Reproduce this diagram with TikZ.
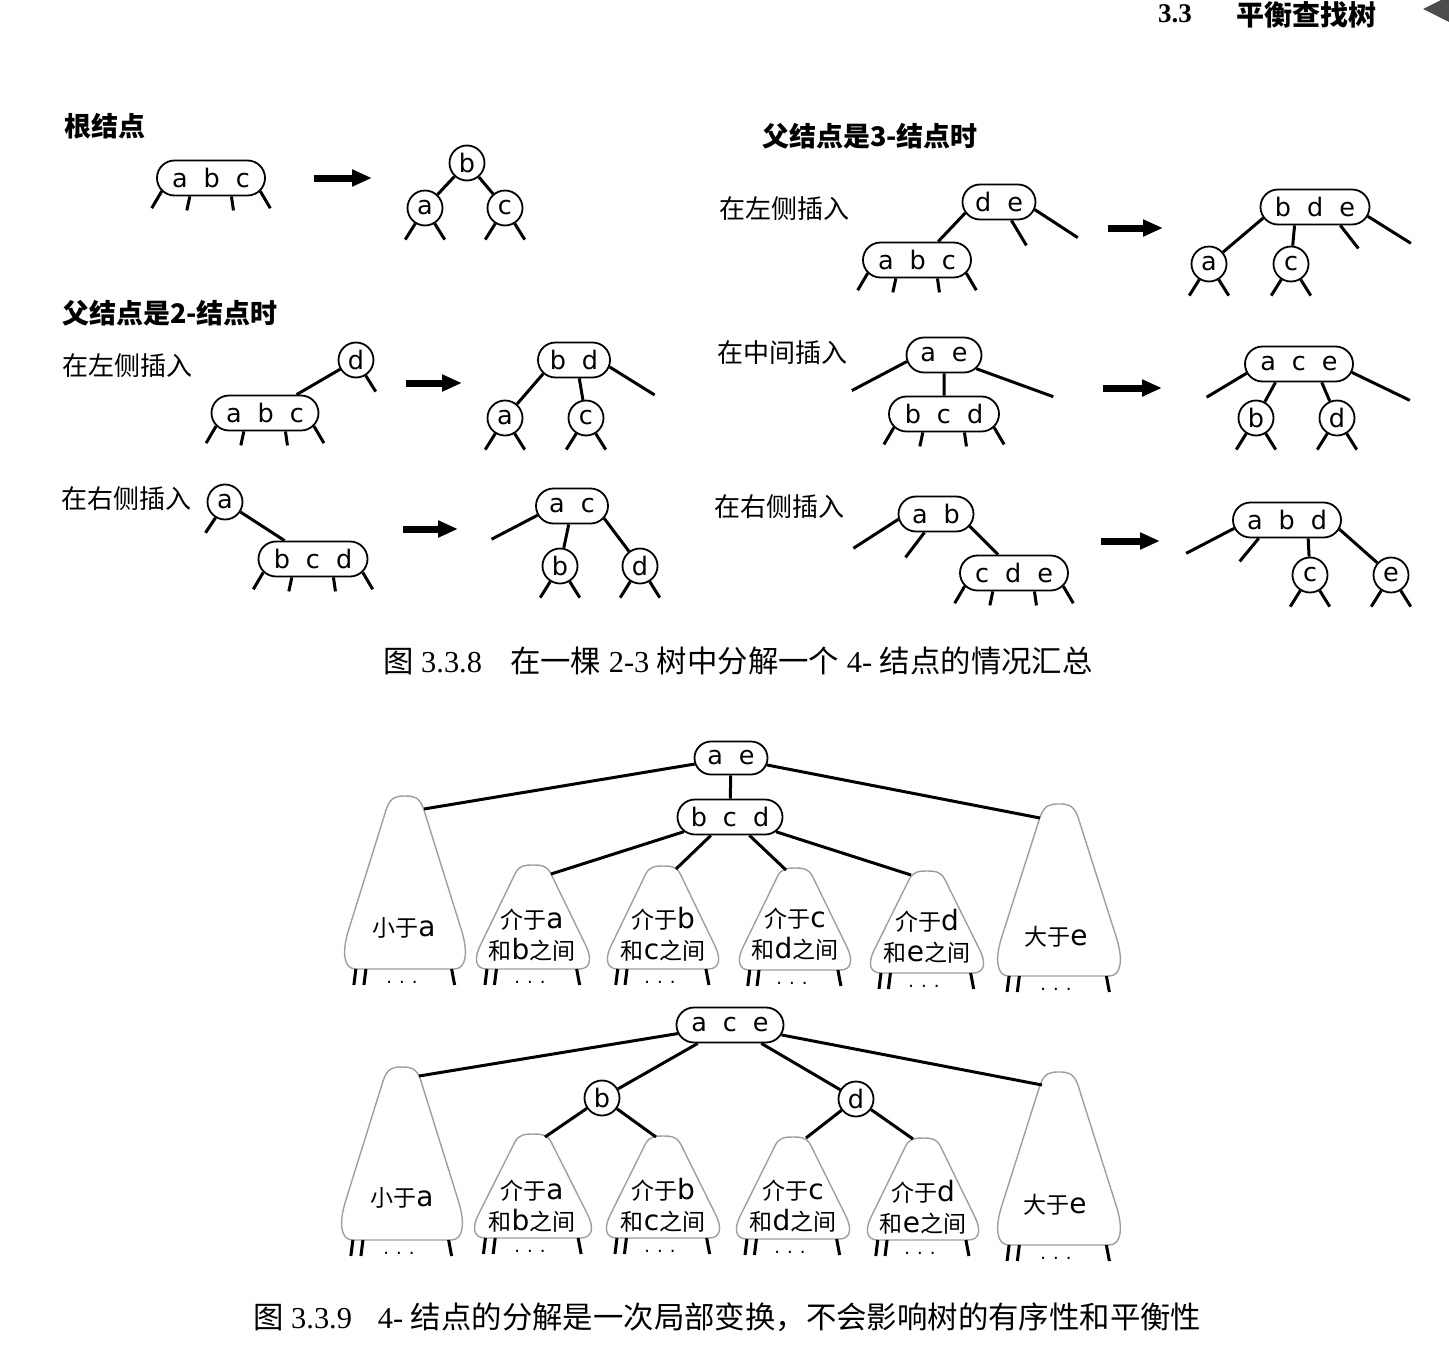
\documentclass[tikz,border=0pt]{standalone}
\usepackage{fontspec}
\setmainfont{Liberation Serif}
\newfontfamily\keyf{DejaVu Sans}
\newfontfamily\cjk{Noto Sans CJK SC}
\usetikzlibrary{shapes.misc,arrows.meta,calc}

\newcommand\ks{\hspace{16pt}}
\newcommand\keysize{\fontsize{25.5}{25.5}\selectfont}
\newcommand\lt[1]{{\fontsize{28}{28}\selectfont\keyf #1}}

\tikzset{
  box/.style={rounded rectangle, draw, line width=1.8pt, fill=white, minimum height=35pt,
              inner xsep=4pt, inner ysep=0pt, font=\keysize\keyf},
  kcirc/.style={circle, draw, line width=1.8pt, fill=white, minimum size=35pt, inner sep=0pt,
              font=\keysize\keyf},
  link/.style={line width=3pt},
  stub/.style={line width=3pt},
  fat/.style={line width=7pt, -{Triangle[length=20pt,width=16pt]}},
  subt/.style={draw=black!38, line width=1.4pt},
  lab/.style={font=\fontsize{26}{26}\selectfont\cjk, anchor=west, inner sep=0pt},
  hdg/.style={font=\fontsize{27}{27}\selectfont\cjk\bfseries, anchor=west, inner sep=0pt},
  tlab/.style={font=\fontsize{23}{31}\selectfont\cjk, align=center, inner sep=0pt},
  capt/.style={font=\fontsize{30.4}{30.4}\selectfont, anchor=west, inner sep=0pt},
  dotsn/.style={font=\fontsize{18}{18}\selectfont\keyf, anchor=base, inner sep=0pt},
}

\newcommand\threelegs[1]{%
  \draw[stub] (#1.-165) -- ++(-10,17);
  \draw[stub] (#1.-139) -- ++(-3,14);
  \draw[stub] (#1.-42) -- ++(2,14);
  \draw[stub] (#1.-15) -- ++(10,17);}
\newcommand\circlegs[1]{%
  \draw[stub] (#1.-122) -- ++(-10,16);
  \draw[stub] (#1.-58) -- ++(10,16);}

% name, cx, apex y, half width, bottom y
\newcommand\subtree[5]{%
  \pgfmathsetmacro\sth{#5-#3}%
  \begin{scope}[shift={(#2,#3)}, x=#4pt, y=-\sth pt]
    \draw[subt] (0.3,0.08) -- (0.9,0.78) .. controls (1.0,0.9) and (0.98,1) .. (0.78,1)
      -- (-0.78,1) .. controls (-0.98,1) and (-1.0,0.9) .. (-0.9,0.78)
      -- (-0.3,0.08) .. controls (-0.23,0.0) and (-0.12,0) .. (0,0)
      .. controls (0.12,0) and (0.23,0.0) .. (0.3,0.08) -- cycle;
  \end{scope}
  \draw[stub] ({#2-0.78*#4},#5) -- ++(-2,16);
  \draw[stub] ({#2-0.62*#4},#5) -- ++(-2,16);
  \draw[stub] ({#2+0.74*#4},#5) -- ++(3,16);
  \node[dotsn] (#1-dots) at ({#2-3},{#5+14}) {.\hspace{7pt}.\hspace{7pt}.};
}

\begin{document}
\begin{tikzpicture}[x=1pt,y=-1pt]
\useasboundingbox (0,0) rectangle (1449,1357);

% ---------- running head ----------
\node[font=\fontsize{27}{27}\selectfont\bfseries, anchor=base west, inner sep=0pt] (hnum) at (1158,23) {3.3};
\node[font=\fontsize{28}{28}\selectfont\cjk\bfseries, anchor=base west, inner sep=0pt] (htitle) at (1236,25) {平衡查找树};
\fill[black!70] (1423,9) -- (1449,-4) -- (1449,22) -- cycle;

% ---------- root ----------
\node[hdg] (h1) at (64,126) {根结点};
\node[box, minimum width=116pt] (r-abc) at (211,178) {a\ks b\ks c};
\threelegs{r-abc}
\coordinate (r-a1s) at (314,178); \coordinate (r-a1e) at (372,178);
\draw[fat] (r-a1s) -- (r-a1e);
\node[kcirc] (r-b) at (467,163) {b};
\node[kcirc] (r-a) at (425,208) {a};
\node[kcirc] (r-c) at (505,208) {c};
\draw[link] (r-b) -- (r-a);
\draw[link] (r-b) -- (r-c);
\circlegs{r-a}\circlegs{r-c}

% ---------- parent is a 2-node ----------
\node[hdg] (h2) at (62,313) {父结点是2-结点时};
\node[lab] (l2a) at (62,366) {在左侧插入};
\node[kcirc] (p-d) at (356,360) {d};
\node[box, minimum width=115pt] (p-abc) at (265,413) {a\ks b\ks c};
\draw[link] (p-d) -- (p-abc);
\draw[stub] (p-d.-58) -- ++(10,16);
\threelegs{p-abc}
\coordinate (p-a1s) at (406,383); \coordinate (p-a1e) at (462,383);
\draw[fat] (p-a1s) -- (p-a1e);
\node[box, minimum width=80pt] (p-bd) at (574,360) {b\ks d};
\node[kcirc] (p-a) at (505,418) {a};
\node[kcirc] (p-c) at (586,418) {c};
\draw[link] (p-bd.-156) -- (p-a);
\draw[link] (p-bd.-74) -- (p-c);
\draw[stub] (p-bd.-11) -- ++(45,28);
\circlegs{p-a}\circlegs{p-c}

\node[lab] (l2b) at (61,499) {在右侧插入};
\node[kcirc] (q-a) at (225,502) {a};
\draw[stub] (q-a.-121) -- ++(-10,15);
\node[box, minimum width=117pt] (q-bcd) at (313,559) {b\ks c\ks d};
\draw[link] (q-a) -- (q-bcd);
\threelegs{q-bcd}
\coordinate (q-a1s) at (403,529); \coordinate (q-a1e) at (458,529);
\draw[fat] (q-a1s) -- (q-a1e);
\node[box, minimum width=80pt] (q-ac) at (572,506) {a\ks c};
\draw[stub] (q-ac.-165) -- ++(-46,24);
\node[kcirc] (q-b) at (560,566) {b};
\node[kcirc] (q-d) at (640,566) {d};
\draw[link] (q-ac.-100) -- (q-b);
\draw[link] (q-ac.-21) -- (q-d);
\circlegs{q-b}\circlegs{q-d}

% ---------- parent is a 3-node ----------
\node[hdg] (h3) at (762,136) {父结点是3-结点时};
\node[lab] (l3a) at (719,209) {在左侧插入};
\node[box, minimum width=81pt] (s-de) at (999,202) {d\ks e};
\node[box, minimum width=116pt] (s-abc) at (917,260) {a\ks b\ks c};
\draw[link] (s-de.-162) -- (s-abc.41);
\draw[stub] (s-de.-56) -- ++(15,25);
\draw[stub] (s-de.-12) -- ++(43,28);
\threelegs{s-abc}
\coordinate (s-a1s) at (1108,228); \coordinate (s-a1e) at (1163,228);
\draw[fat] (s-a1s) -- (s-a1e);
\node[box, minimum width=117pt] (s-bde) at (1315,207) {b\ks d\ks e};
\node[kcirc] (s-a) at (1209,264) {a};
\node[kcirc] (s-c) at (1291,264) {c};
\draw[link] (s-bde.-168) -- (s-a);
\draw[link] (s-bde.-138) -- (s-c);
\draw[stub] (s-bde.-36) -- ++(18,23);
\draw[stub] (s-bde.-10) -- ++(43,27);
\circlegs{s-a}\circlegs{s-c}

\node[lab] (l3b) at (717,353) {在中间插入};
\node[box, minimum width=83pt] (m-ae) at (944,355) {a\ks e};
\node[box, minimum width=118pt] (m-bcd) at (944,414) {b\ks c\ks d};
\draw[link] (m-ae) -- (m-bcd);
\draw[stub] (m-ae.-170) -- ++(-55,29);
\draw[stub] (m-ae.-23) -- ++(77,28);
\threelegs{m-bcd}
\coordinate (m-a1s) at (1103,388); \coordinate (m-a1e) at (1162,388);
\draw[fat] (m-a1s) -- (m-a1e);
\node[box, minimum width=116pt] (m-ace) at (1299,364) {a\ks c\ks e};
\node[kcirc] (m-b) at (1256,418) {b};
\node[kcirc] (m-d) at (1337,418) {d};
\draw[stub] (m-ace.-170) -- ++(-40,24);
\draw[link] (m-ace.-142) -- (m-b);
\draw[link] (m-ace.-39) -- (m-d);
\draw[stub] (m-ace.-9) -- ++(58,28);
\circlegs{m-b}\circlegs{m-d}

\node[lab] (l3c) at (714,507) {在右侧插入};
\node[box, minimum width=83pt] (n-ab) at (936,514) {a\ks b};
\node[box, minimum width=116pt] (n-cde) at (1014,573) {c\ks d\ks e};
\draw[stub] (n-ab.-172) -- ++(-45,29);
\draw[stub] (n-ab.-122) -- ++(-19,25);
\draw[link] (n-ab.-20) -- (n-cde.131);
\threelegs{n-cde}
\coordinate (n-a1s) at (1101,541); \coordinate (n-a1e) at (1160,541);
\draw[fat] (n-a1s) -- (n-a1e);
\node[box, minimum width=116pt] (n-abd) at (1287,520) {a\ks b\ks d};
\node[kcirc] (n-c) at (1310,575) {c};
\node[kcirc] (n-e) at (1391,575) {e};
\draw[stub] (n-abd.-171) -- ++(-48,25);
\draw[stub] (n-abd.-147) -- ++(-19,23);
\draw[link] (n-abd.-41) -- (n-c);
\draw[link] (n-abd.-10) -- (n-e);
\circlegs{n-c}\circlegs{n-e}

\node[capt] (cap1) at (383,661) {{\cjk 图} 3.3.8\hspace{28pt}{\cjk 在一棵} 2-3 {\cjk 树中分解一个} 4- {\cjk 结点的情况汇总}};

% ---------- Fig 3.3.9 : before ----------
\subtree{u1}{405}{796}{63}{969}
\subtree{u2}{533}{865}{59}{969}
\subtree{u3}{663}{866}{58}{969}
\subtree{u4}{795}{868}{58}{970}
\subtree{u5}{927}{871}{59}{973}
\subtree{u6}{1059}{804}{64}{976}
\node[tlab] (u1-l) at (404,928) {小于\lt{a}};
\node[tlab] (u2-l) at (532,935) {介于\lt{a}\\和\lt{b}之间};
\node[tlab] (u3-l) at (663,934) {介于\lt{b}\\和\lt{c}之间};
\node[tlab] (u4-l) at (795,934) {介于\lt{c}\\和\lt{d}之间};
\node[tlab] (u5-l) at (927,936) {介于\lt{d}\\和\lt{e}之间};
\node[tlab] (u6-l) at (1056,937) {大于\lt{e}};

\node[box, minimum width=81pt, minimum height=33pt] (u-ae) at (731,758) {a\ks e};
\node[box, minimum width=113pt] (u-bcd) at (730,817) {b\ks c\ks d};
\draw[link] (u-ae) -- (u-bcd);
\coordinate (u-t1) at (424,809);
\coordinate (u-t2) at (551,874);
\coordinate (u-t3) at (676,869);
\coordinate (u-t4) at (786,870);
\coordinate (u-t5) at (911,875);
\coordinate (u-t6) at (1040,818);
\draw[link] (u-ae) -- (u-t1);
\draw[link] (u-ae) -- (u-t6);
\draw[link] (u-bcd) -- (u-t2);
\draw[link] (u-bcd) -- (u-t3);
\draw[link] (u-bcd) -- (u-t4);
\draw[link] (u-bcd) -- (u-t5);

% ---------- Fig 3.3.9 : after ----------
\subtree{v1}{402}{1067}{63}{1240}
\subtree{v2}{533}{1134}{61}{1238}
\subtree{v3}{663}{1136}{59}{1238}
\subtree{v4}{793}{1137}{59}{1239}
\subtree{v5}{923}{1138}{58}{1240}
\subtree{v6}{1059}{1072}{64}{1245}
\node[tlab] (v1-l) at (402,1198) {小于\lt{a}};
\node[tlab] (v2-l) at (532,1206) {介于\lt{a}\\和\lt{b}之间};
\node[tlab] (v3-l) at (663,1205) {介于\lt{b}\\和\lt{c}之间};
\node[tlab] (v4-l) at (793,1206) {介于\lt{c}\\和\lt{d}之间};
\node[tlab] (v5-l) at (923,1207) {介于\lt{d}\\和\lt{e}之间};
\node[tlab] (v6-l) at (1055,1205) {大于\lt{e}};

\node[box, minimum width=115pt] (v-ace) at (730,1025) {a\ks c\ks e};
\node[kcirc] (v-b) at (602,1098) {b};
\node[kcirc] (v-d) at (856,1099) {d};
\coordinate (v-t1) at (419,1076);
\coordinate (v-t2) at (545,1137);
\coordinate (v-t3) at (656,1137);
\coordinate (v-t4) at (806,1138);
\coordinate (v-t5) at (913,1139);
\coordinate (v-t6) at (1042,1085);
\draw[link] (v-ace) -- (v-t1);
\draw[link] (v-ace) -- (v-t6);
\draw[link] (v-ace) -- (v-b);
\draw[link] (v-ace) -- (v-d);
\draw[link] (v-b) -- (v-t2);
\draw[link] (v-b) -- (v-t3);
\draw[link] (v-d) -- (v-t4);
\draw[link] (v-d) -- (v-t5);

\node[capt] (cap2) at (253,1317) {{\cjk 图} 3.3.9\hspace{26pt}4- {\cjk 结点的分解是一次局部变换，不会影响树的有序性和平衡性}};
\end{tikzpicture}
\end{document}
